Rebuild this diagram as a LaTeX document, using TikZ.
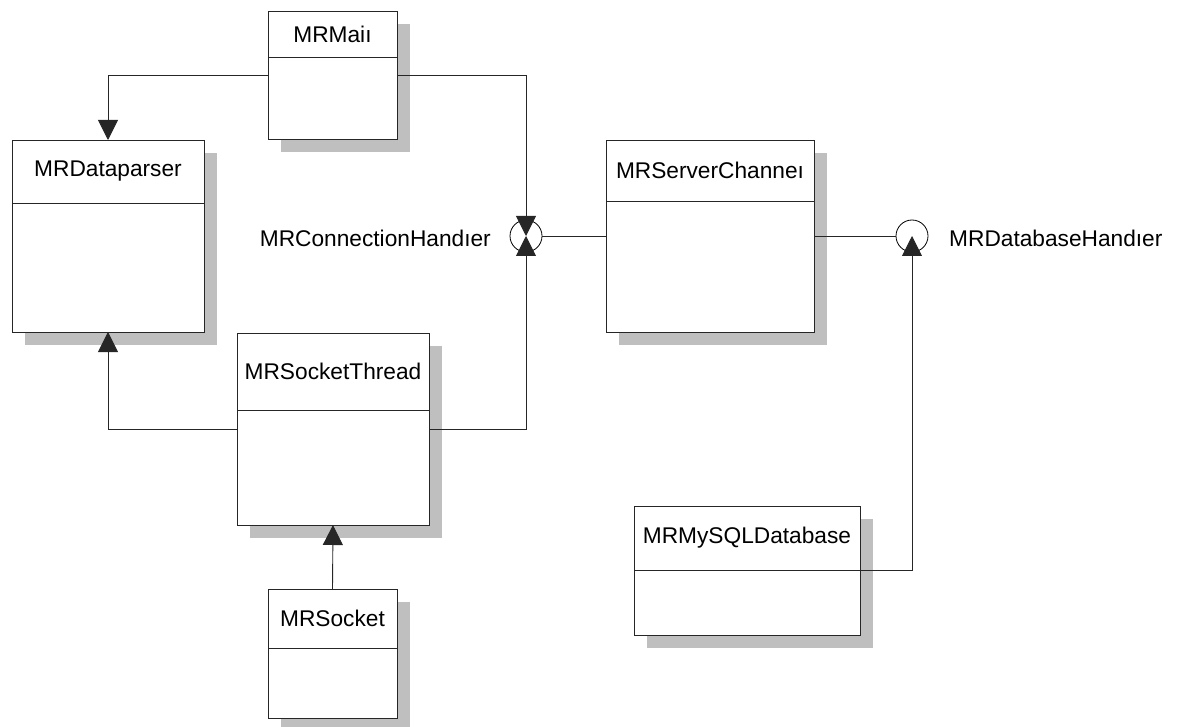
\documentclass[tikz,border=0pt]{standalone}
\usepackage{fontspec}
\setmainfont{Liberation Sans}
\usetikzlibrary{arrows.meta,shadows}
\newcommand\umlcls[7]{%
  \node[cls, minimum width={#4-#2}, minimum height={#5-#3}] (#1) at (#2,#3) {};
  \draw[conn] (#2,#6) -- (#4,#6);
  \node[ttl] (#1-t) at ({(#2+#4)/2},{(#3+#6)/2}) {#7};
}
\begin{document}
\begin{tikzpicture}[x=1pt,y=-1pt,
  cls/.style={draw=black!85, line width=0.9pt, fill=white, inner sep=0pt, outer sep=0pt, anchor=north west,
    drop shadow={shadow xshift=13pt, shadow yshift=-13pt, fill=black!25, opacity=1}},
  ttl/.style={font=\fontsize{22.7}{26}\selectfont, inner sep=0pt},
  conn/.style={line width=0.9pt, draw=black!85},
  tri/.style={-{Triangle[width=20pt,length=20pt]}},
  iface/.style={circle, draw=black, line width=0.8pt, minimum size=32pt, inner sep=0pt, outer sep=0pt, fill=white},
  lbl/.style={font=\fontsize{22.7}{26}\selectfont, inner sep=0pt}
]
\useasboundingbox (0,0) rectangle (1178,727);
\umlcls{main}{268}{11}{397}{139}{57}{MRMaiı}
\umlcls{parser}{12}{140}{204}{332}{203}{MRDataparser}
\umlcls{server}{606}{140}{814}{332}{201}{MRServerChanneı}
\umlcls{thread}{237}{333}{429}{525}{410}{MRSocketThread}
\umlcls{socket}{268}{589}{397}{718}{648}{MRSocket}
\umlcls{mysql}{634}{506}{860}{635}{570}{MRMySQLDatabase}

\node[iface] (ch) at (526,236) {};
\node[iface] (dh) at (912,236) {};
\node[lbl, anchor=east] (chl) at (491,238) {MRConnectionHandıer};
\node[lbl, anchor=west] (dhl) at (949,238) {MRDatabaseHandıer};
\coordinate (mysqlport) at (860,570);

\draw[conn,tri] (main.west) -| (parser.north);
\draw[conn,tri] (main.east) -| (ch.center);
\draw[conn,tri] (thread.east) -| (ch.center);
\draw[conn,tri] (thread.west) -| (parser.south);
\draw[conn,tri] (socket.north) -- (thread.south);
\draw[conn] (ch.east) -- (server.west);
\draw[conn] (server.east) -- (dh.west);
\draw[conn,tri] (mysqlport) -| (dh.center);
\end{tikzpicture}
\end{document}
